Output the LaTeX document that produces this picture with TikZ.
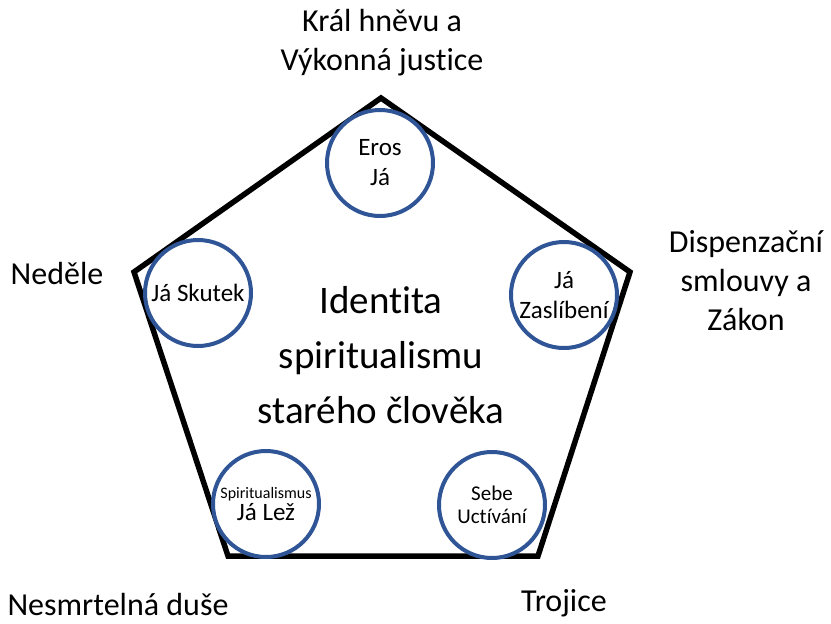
\documentclass[tikz,border=0pt]{standalone}
\usepackage{fontspec}
\setmainfont{Carlito}[Ligatures=NoCommon]
\usetikzlibrary{positioning}
\definecolor{ringblue}{RGB}{47,85,151}

\begin{document}
\begin{tikzpicture}[x=1pt, y=-1pt,
    ring/.style={circle, draw=ringblue, line width=4pt, fill=white,
        minimum size=106pt, inner sep=0pt, align=center},
    outer/.style={align=center, font=\fontsize{32}{39}\selectfont}]
    \useasboundingbox (0,0) rectangle (831,624);

    % Pentagon corners
    \coordinate (pTop) at (381,98);
    \coordinate (pRight) at (630,272);
    \coordinate (pBR) at (538,556);
    \coordinate (pBL) at (228,556);
    \coordinate (pLeft) at (134,272);
    \draw[line width=5.5pt] (pTop) -- (pRight) -- (pBR) -- (pBL) -- (pLeft) -- cycle;

    % Circles on the corners
    \node[ring, font=\fontsize{25}{30}\selectfont] (eros) at (380,163) {Eros\\Já};
    \node[ring, font=\fontsize{25}{25}\selectfont] (skutek) at (198,293) {Já Skutek};
    \node[ring, font=\fontsize{25}{30}\selectfont] (zasl) at (564,295) {Já\\Zaslíbení};
    \node[ring] (lez) at (266,504) {{\fontsize{16}{18}\selectfont Spiritualismus}\\[2pt]{\fontsize{25}{27}\selectfont Já Lež}};
    \node[ring, font=\fontsize{21}{23}\selectfont] (sebe) at (492,505) {Sebe\\Uctívání};

    % Middle text
    \node[align=center, font=\fontsize{39}{55}\selectfont] (ident) at (381,355)
        {Identita\\spiritualismu\\starého člověka};

    % Labels outside
    \node[outer] (kral) at (382,43) {Král hněvu a\\Výkonná justice};
    \node[outer] (disp) at (746,281) {Dispenzační\\smlouvy a\\Zákon};
    \node[outer] (nedele) at (57,273) {Neděle};
    \node[outer] (nesmrt) at (118,605) {Nesmrtelná duše};
    \node[outer] (trojice) at (564,603) {Trojice};
\end{tikzpicture}
\end{document}
